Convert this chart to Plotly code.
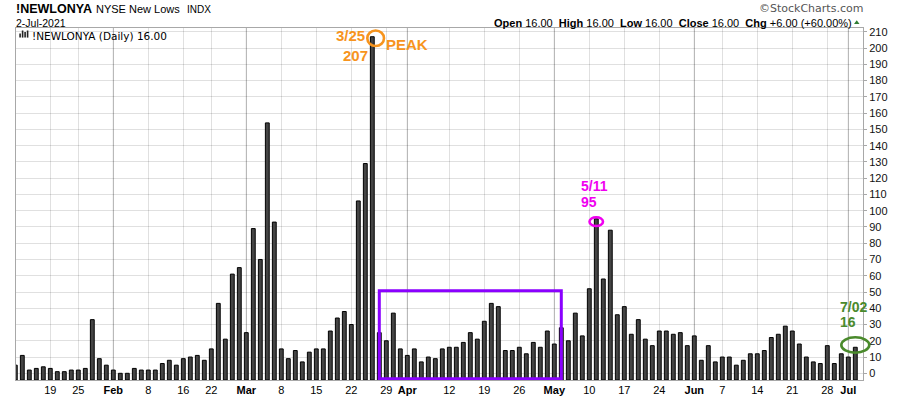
import plotly.graph_objects as go

# ---------------- data ----------------
jan_days = [11, 12, 13, 14, 15, 19, 20, 21, 22, 25, 26, 27, 28, 29]
feb_days = [1, 2, 3, 4, 5, 8, 9, 10, 11, 12, 16, 17, 18, 19, 22, 23, 24, 25, 26]
mar_days = [1, 2, 3, 4, 5, 8, 9, 10, 11, 12, 15, 16, 17, 18, 19, 22, 23, 24, 25, 26, 29, 30, 31]
apr_days = [1, 5, 6, 7, 8, 9, 12, 13, 14, 15, 16, 19, 20, 21, 22, 23, 26, 27, 28, 29, 30]
may_days = [3, 4, 5, 6, 7, 10, 11, 12, 13, 14, 17, 18, 19, 20, 21, 24, 25, 26, 27, 28]
jun_days = [1, 2, 3, 4, 7, 8, 9, 10, 11, 14, 15, 16, 17, 18, 21, 22, 23, 24, 25, 28, 29, 30]
jul_days = [1, 2]

jan_lows = [5, 11, 2, 3, 4, 3, 1, 1, 2, 2, 3, 33, 9, 5]
feb_lows = [2, 0, 0, 3, 2, 2, 2, 6, 8, 5, 9, 10, 11, 8, 15, 43, 21, 61, 65]
mar_lows = [25, 89, 70, 154, 93, 15, 9, 14, 7, 13, 15, 15, 26, 34, 38, 30, 106, 129, 207, 25, 20, 37, 15]
apr_lows = [11, 15, 7, 10, 9, 15, 16, 16, 19, 25, 21, 32, 43, 41, 14, 14, 16, 12, 19, 16, 26]
may_lows = [18, 28, 20, 37, 23, 52, 95, 58, 88, 36, 41, 24, 33, 21, 17, 26, 26, 24, 25, 17]
jun_lows = [23, 8, 17, 7, 10, 10, 5, 8, 12, 12, 14, 22, 24, 29, 26, 18, 10, 7, 6, 17, 6, 12]
jul_lows = [10, 16]

month_days = [(1, jan_days), (2, feb_days), (3, mar_days), (4, apr_days),
              (5, may_days), (6, jun_days), (7, jul_days)]
dates = [f"2021-{m:02d}-{d:02d}" for m, days in month_days for d in days]
new_lows = jan_lows + feb_lows + mar_lows + apr_lows + may_lows + jun_lows + jul_lows

tick_dates = ["2021-01-19", "2021-01-25", "2021-02-01", "2021-02-08", "2021-02-16",
              "2021-02-22", "2021-03-01", "2021-03-08", "2021-03-15", "2021-03-22",
              "2021-03-29", "2021-04-01", "2021-04-12", "2021-04-19", "2021-04-26",
              "2021-05-03", "2021-05-10", "2021-05-17", "2021-05-24", "2021-06-01",
              "2021-06-07", "2021-06-14", "2021-06-21", "2021-06-28", "2021-07-01"]
tick_labels = ["19", "25", "Feb", "8", "16", "22", "Mar", "8", "15", "22", "29", "Apr",
               "12", "19", "26", "May", "10", "17", "24", "Jun", "7", "14", "21", "28", "Jul"]
month_labels = ["Feb", "Mar", "Apr", "May", "Jun", "Jul"]
y_ticks = list(range(0, 220, 10))

peak_date, peak_value = "2021-03-25", 207
may_date, may_value = "2021-05-11", 95
last_date, last_value = "2021-07-02", 16
box_start, box_end, box_top = "2021-03-26", "2021-05-04", 50.8

# ---------------- geometry ----------------
W, H = 900, 396
M = dict(l=16, r=37, t=28, b=16)
PLOT_W = W - M["l"] - M["r"]
PLOT_H = H - M["t"] - M["b"]
X_RANGE = [0.1, 121.1]
Y_RANGE = [-4.12, 212.36]
PX_X = PLOT_W / (X_RANGE[1] - X_RANGE[0])
PX_Y = PLOT_H / (Y_RANGE[1] - Y_RANGE[0])


def px(xp):
    return (xp - M["l"]) / PLOT_W


def py(yp):
    return (H - M["b"] - yp) / PLOT_H


idx = {d: i for i, d in enumerate(dates)}

ARIAL = "Liberation Sans, Arial, sans-serif"
VERDANA = "DejaVu Sans, Verdana, sans-serif"
ORANGE = "#F7941D"
MAGENTA = "#F000F0"
GREEN = "#4A8A2C"
PURPLE = "#8A00FF"

fig = go.Figure()
fig.add_trace(go.Bar(
    x=dates,
    y=[v - Y_RANGE[0] for v in new_lows],
    base=Y_RANGE[0],
    width=0.55,
    marker=dict(color="#444444", line=dict(color="#000000", width=1)),
    hoverinfo="skip",
    showlegend=False,
))

ticktext = [f"<b>{t}</b>" if t in month_labels else t for t in tick_labels]

fig.update_layout(
    width=W, height=H,
    margin=M,
    paper_bgcolor="white",
    plot_bgcolor="white",
    showlegend=False,
    bargap=0,
    xaxis=dict(
        type="category",
        categoryorder="array",
        categoryarray=dates,
        range=X_RANGE,
        automargin=False,
        tickmode="array",
        tickvals=tick_dates,
        ticktext=ticktext,
        ticks="",
        showgrid=True,
        gridcolor="rgba(0,0,0,0.12)",
        gridwidth=1,
        showline=True,
        linecolor="#a8a8a8",
        linewidth=1,
        mirror=True,
        tickfont=dict(family=ARIAL, size=11, color="#000000"),
        fixedrange=True,
    ),
    yaxis=dict(
        side="right",
        range=Y_RANGE,
        automargin=False,
        tickmode="array",
        tickvals=y_ticks,
        ticks="outside",
        ticklen=3,
        tickcolor="#a8a8a8",
        showgrid=True,
        gridcolor="rgba(0,0,0,0.12)",
        zeroline=False,
        showline=True,
        linecolor="#a8a8a8",
        mirror=True,
        tickfont=dict(family=ARIAL, size=11, color="#111111"),
        fixedrange=True,
    ),
)

# slightly darker month grid lines
shapes = []
month_dates = [d for d, t in zip(tick_dates, tick_labels) if t in month_labels]
for d in month_dates:
    shapes.append(dict(type="line", xref="x", yref="paper", x0=idx[d], x1=idx[d],
                       y0=0, y1=1, line=dict(color="#c8c8c8", width=1), layer="between"))
try:
    go.layout.Shape(**shapes[0])
except ValueError:
    for s in shapes:
        s["layer"] = "below"

# purple box
shapes.append(dict(type="rect", xref="x", yref="y",
                   x0=idx[box_start], x1=idx[box_end], y0=-3.4, y1=box_top,
                   line=dict(color=PURPLE, width=3), fillcolor="rgba(0,0,0,0)"))

# orange circle at peak
pi = idx[peak_date]
shapes.append(dict(type="circle", xref="x", yref="y",
                   x0=pi - 5.0 / PX_X, x1=pi + 11.7 / PX_X,
                   y0=peak_value - 9.3 / PX_Y, y1=peak_value + 6.2 / PX_Y,
                   line=dict(color=ORANGE, width=2.6)))
# magenta circle
mi = idx[may_date]
shapes.append(dict(type="circle", xref="x", yref="y",
                   x0=mi - 6.8 / PX_X, x1=mi + 6.7 / PX_X,
                   y0=may_value - 7.2 / PX_Y, y1=may_value + 1.6 / PX_Y,
                   line=dict(color=MAGENTA, width=2.6)))
# green ellipse (extends past plot edge -> paper coords)
li = idx[last_date]
lx = M["l"] + (li - X_RANGE[0]) * PX_X
ly = H - M["b"] - (last_value - Y_RANGE[0]) * PX_Y
shapes.append(dict(type="circle", xref="paper", yref="paper",
                   x0=px(lx - 14.0), x1=px(lx + 14.0),
                   y0=py(ly + 5.4), y1=py(ly - 10.0),
                   line=dict(color=GREEN, width=2.6)))

# legend icon (small bar glyph)
for (x0, x1, y0) in [(19.3, 20.9, 33.5), (21.8, 23.4, 30.5), (24.3, 25.9, 32.0), (26.8, 28.4, 30.5)]:
    shapes.append(dict(type="rect", xref="paper", yref="paper",
                       x0=px(x0), x1=px(x1), y0=py(37.6), y1=py(y0),
                       line=dict(width=0), fillcolor="#222222"))

# green up triangle
shapes.append(dict(type="path", xref="paper", yref="paper",
                   path=f"M {px(854)},{py(24)} L {px(859.5)},{py(24)} L {px(856.75)},{py(20.3)} Z",
                   line=dict(width=0), fillcolor="#2E7D32"))

fig.update_layout(shapes=shapes)

ann = []


def text(t, x, y, size, family=ARIAL, color="#000000", anchor="left"):
    ann.append(dict(text=t, xref="paper", yref="paper", x=px(x), y=py(y),
                    xanchor=anchor, yanchor="middle", showarrow=False,
                    font=dict(family=family, size=size, color=color)))


text("<b>!NEWLONYA</b>", 13.5, 8.8, 12.5)
text("NYSE New Lows", 93.5, 9.3, 11)
text("INDX", 184.5, 9.3, 10)
text("2-Jul-2021", 13.5, 22.6, 10.5)
text("!NEWLONYA (Daily) 16.00", 29.8, 35.6, 10.5, family=VERDANA)
text("\u00a9StockCharts.com", 865, 8.2, 11, family=VERDANA, color="#555555", anchor="right")
text("<b>Open</b> 16.00  <b>High</b> 16.00  <b>Low</b> 16.00  <b>Close</b> 16.00  "
     "<b>Chg</b> +6.00 (+60.00%)", 854, 22.6, 11, anchor="right")


def note(t, date, value, xshift, yshift, color, size, anchor):
    ann.append(dict(text=f"<b>{t}</b>", xref="x", yref="y", x=idx[date], y=value,
                    xshift=xshift, yshift=yshift, xanchor=anchor, yanchor="middle",
                    showarrow=False, font=dict(family=ARIAL, size=size, color=color)))


note("3/25", peak_date, peak_value, -5.0, 0.9, ORANGE, 15, "right")
note("207", peak_date, peak_value, -2.5, -18.3, ORANGE, 15, "right")
note("PEAK", peak_date, peak_value, 11.5, -7.3, ORANGE, 15, "left")
note("5/11", may_date, may_value, -17.5, 32.5, MAGENTA, 14, "left")
note("95", may_date, may_value, -17.5, 16.8, MAGENTA, 14, "left")
note("7/02", last_date, last_value, -17.0, 40.6, GREEN, 14, "left")
note("16", last_date, last_value, -17.0, 25.6, GREEN, 14, "left")

fig.update_layout(annotations=ann)

fig.write_html("out.html",
               config={"displayModeBar": False, "staticPlot": True},
               post_script="document.body.style.margin='0px';document.body.style.overflow='hidden';")
